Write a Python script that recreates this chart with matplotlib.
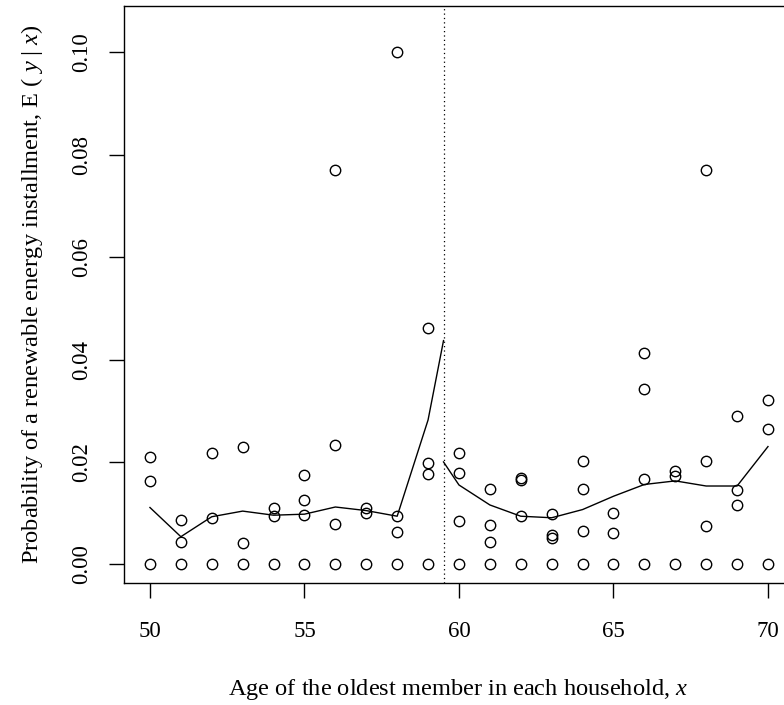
import matplotlib
matplotlib.use("Agg")
import matplotlib.pyplot as plt
import numpy as np

# observed household shares by age (non-zero ones)
ages = [50, 50, 51, 51, 52, 52, 53, 53, 54, 54,
        55, 55, 55, 56, 56, 56, 57, 57, 58, 58, 58,
        59, 59, 59, 60, 60, 60, 61, 61, 61, 62, 62, 62,
        63, 63, 63, 64, 64, 64, 65, 65, 66, 66, 66,
        67, 67, 68, 68, 68, 69, 69, 69, 70, 70]
probs = [0.0209, 0.0163, 0.0087, 0.0044, 0.0217, 0.0091, 0.0229, 0.0042, 0.0111, 0.0095,
         0.0175, 0.0126, 0.0097, 0.0234, 0.0079, 0.0770, 0.0111, 0.0101, 0.0094, 0.0064, 0.1000,
         0.0198, 0.0177, 0.0462, 0.0218, 0.0178, 0.0084, 0.0147, 0.0077, 0.0044, 0.0168, 0.0165, 0.0095,
         0.0098, 0.0057, 0.0051, 0.0202, 0.0148, 0.0065, 0.0100, 0.0061, 0.0412, 0.0343, 0.0167,
         0.0183, 0.0172, 0.0770, 0.0201, 0.0075, 0.0289, 0.0145, 0.0115, 0.0321, 0.0264]
# zero observations, one for every age
zero_ages = list(range(50, 71))

cutoff = 59.5

# fitted curve left of cutoff
fit_left_x = [50, 51, 52, 53, 54, 55, 56, 57, 58, 59, 59.5]
fit_left_y = [0.0111, 0.0054, 0.0093, 0.0104, 0.0096, 0.0098, 0.0112, 0.0105, 0.0094, 0.0282, 0.0437]
# fitted curve right of cutoff
fit_right_x = [59.5, 60, 61, 62, 63, 64, 65, 66, 67, 68, 69, 70]
fit_right_y = [0.0200, 0.0155, 0.0116, 0.0094, 0.0091, 0.0107, 0.0133, 0.0156, 0.0163, 0.0153, 0.0153, 0.0230]

xticks = [50, 55, 60, 65, 70]
yticks = [0.00, 0.02, 0.04, 0.06, 0.08, 0.10]

plt.rcParams['font.family'] = ['Liberation Serif', 'DejaVu Serif']
plt.rcParams['mathtext.fontset'] = 'custom'
plt.rcParams['mathtext.it'] = 'Liberation Serif:italic'
plt.rcParams['mathtext.rm'] = 'Liberation Serif'

fs = 16.5      # tick labels
fs_lab = 17.6  # axis titles

W, H = 784, 705
fig = plt.figure(figsize=(W / 100, H / 100), dpi=100)
# axes box runs past the right edge (cropped like the original)
left, right, top, bottom = 124, 792.7, 5.7, 583.3
ax = fig.add_axes([left / W, 1 - bottom / H, (right - left) / W, (bottom - top) / H])
ax.set_xlim(49.16, 70.8)
ax.set_ylim(-0.0037, 0.1091)

ms = 7.5
ax.plot(ages, probs, 'o', mfc='none', mec='black', ms=ms, mew=1.0, clip_on=False)
ax.plot(zero_ages, np.zeros(len(zero_ages)), 'o', mfc='none', mec='black', ms=ms, mew=1.0, clip_on=False)
ax.plot(fit_left_x, fit_left_y, color='black', lw=1.0)
ax.plot(fit_right_x, fit_right_y, color='black', lw=1.0)
ax.axvline(cutoff, color='black', lw=0.9, ls=(0, (1, 2.5)))

for s in ax.spines.values():
    s.set_linewidth(1.0)

ax.set_xticks(xticks)
ax.set_xticklabels([str(v) for v in xticks])
ax.set_yticks(yticks)
ax.set_yticklabels(['%.2f' % v for v in yticks], rotation=90, va='center')
ax.tick_params(axis='both', direction='out', length=11, width=1.0, labelsize=fs)
ax.tick_params(axis='x', pad=16)
ax.tick_params(axis='y', pad=12)

ax.set_xlabel('Age of the oldest member in each household, $x$', fontsize=fs_lab, labelpad=25)
ax.set_ylabel('Probability of a renewable energy installment, E ( $y$ | $x$)', fontsize=fs_lab, labelpad=19)

fig.savefig('out.png', dpi=100)
